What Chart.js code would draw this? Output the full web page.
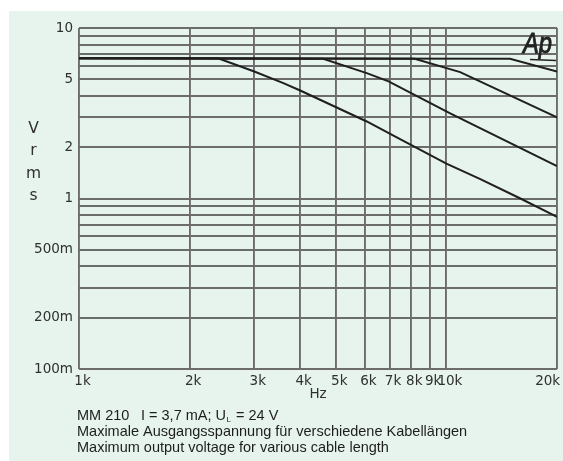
<!DOCTYPE html>
<html>
<head>
<meta charset="utf-8">
<script src="https://cdn.jsdelivr.net/npm/chart.js@4.4.1/dist/chart.umd.min.js"></script>
<style>
  html, body { margin: 0; padding: 0; background: #ffffff; }
  #wrap { width: 563px; height: 461px; }
</style>
</head>
<body>
<div id="wrap"><canvas id="levelChart" width="563" height="461"></canvas></div>
<script>
// Frequenzachse (Hz) und Gitterwerte
const xTicks = [1000, 2000, 3000, 4000, 5000, 6000, 7000, 8000, 9000, 10000, 20000];
const xTickLabels = ['1k', '2k', '3k', '4k', '5k', '6k', '7k', '8k', '9k', '10k', '20k'];
const yGrid = [0.1, 0.2, 0.3, 0.4, 0.5, 0.6, 0.7, 0.8, 0.9, 1, 2, 3, 4, 5, 6, 7, 8, 9, 10];
const yLabelValues = [0.1, 0.2, 0.5, 1, 2, 5, 10];
const yLabelTexts = ['100m', '200m', '500m', '1', '2', '5', '10'];

// Kurven (Hz / Vrms)
const curve1Hz = [1000, 2390, 3000, 3600, 4000, 6070, 7480, 10000, 12370, 15900, 20000];
const curve1V  = [6.65, 6.65, 5.56, 4.75, 4.3, 2.83, 2.23, 1.6, 1.3, 1.0, 0.78];
const curve2Hz = [1000, 4620, 6070, 6960, 10240, 20000];
const curve2V  = [6.65, 6.6, 5.44, 4.86, 3.16, 1.55];
const curve3Hz = [1000, 8200, 10900, 20000];
const curve3V  = [6.65, 6.6, 5.51, 2.99];
const curve4Hz = [1000, 14900, 20000];
const curve4V  = [6.65, 6.6, 5.56];

const gridColor = '#6c6c6c';
const textColor = '#303030';
const tickFont = { family: 'DejaVu Sans', size: 13.5 };

function toPoints(hz, v) {
    return hz.map((f, i) => ({ x: f, y: v[i] }));
}

function lineSet(hz, v) {
    return {
        data: toPoints(hz, v),
        borderColor: '#1f1f1f',
        borderWidth: 2,
        pointRadius: 0,
        tension: 0,
        fill: false
    };
}

// Hintergrund, Achsentitel und Beschriftung
const decorPlugin = {
    id: 'decor',
    beforeDraw(chart) {
        const ctx = chart.ctx;
        ctx.save();
        ctx.fillStyle = '#e6f4ed';
        ctx.fillRect(9, 11, chart.width - 9, chart.height - 11);
        ctx.restore();
    },
    afterDraw(chart) {
        const ctx = chart.ctx;
        ctx.save();
        // V r m s
        ctx.fillStyle = textColor;
        ctx.font = '15.5px "DejaVu Sans"';
        ctx.textAlign = 'center';
        ctx.textBaseline = 'alphabetic';
        ['V', 'r', 'm', 's'].forEach((ch, i) => {
            ctx.fillText(ch, 33.5, 133 + i * 22.3);
        });

        // Logo
        ctx.fillStyle = '#222222';
        ctx.strokeStyle = '#222222';
        ctx.save();
        ctx.translate(523, 53);
        ctx.scale(0.82, 1);
        ctx.font = 'italic 29px "Liberation Sans"';
        ctx.textAlign = 'left';
        ctx.lineWidth = 0.9;
        ctx.fillText('Ap', 0, 0);
        ctx.strokeText('Ap', 0, 0);
        ctx.restore();
        ctx.lineWidth = 1.3;
        ctx.beginPath();
        ctx.moveTo(530, 59.5);
        ctx.lineTo(556, 60.5);
        ctx.stroke();

        // Unterschrift
        ctx.fillStyle = '#1e1e1e';
        ctx.textAlign = 'left';
        ctx.font = '14.5px "Liberation Sans"';
        ctx.fillText('MM 210', 77, 420);
        let x = 141;
        const part1 = 'I = 3,7 mA; U';
        ctx.fillText(part1, x, 420);
        x += ctx.measureText(part1).width;
        ctx.font = '8px "Liberation Sans"';
        ctx.fillText('L', x + 0.5, 422);
        x += ctx.measureText('L').width + 1.5;
        ctx.font = '14.5px "Liberation Sans"';
        ctx.fillText(' = 24 V', x, 420);
        ctx.fillText('Maximale Ausgangsspannung für verschiedene Kabellängen', 77, 436);
        ctx.fillText('Maximum output voltage for various cable length', 77, 451.5);
        ctx.restore();
    }
};

document.addEventListener('DOMContentLoaded', function () {
    const ctx = document.getElementById('levelChart').getContext('2d');
    new Chart(ctx, {
        type: 'line',
        data: {
            datasets: [
                lineSet(curve1Hz, curve1V),
                lineSet(curve2Hz, curve2V),
                lineSet(curve3Hz, curve3V),
                lineSet(curve4Hz, curve4V)
            ]
        },
        options: {
            responsive: false,
            animation: false,
            devicePixelRatio: 1,
            layout: { padding: { left: 0, right: 6, top: 28, bottom: 58 } },
            plugins: {
                legend: { display: false },
                tooltip: { enabled: false }
            },
            scales: {
                x: {
                    type: 'logarithmic',
                    min: 1000,
                    max: 20000,
                    afterBuildTicks: (scale) => {
                        scale.ticks = xTicks.map(v => ({ value: v }));
                    },
                    afterFit: (scale) => {
                        scale.height = 34;
                        scale.paddingLeft = 0;
                        scale.paddingRight = 0;
                    },
                    ticks: {
                        autoSkip: false,
                        maxRotation: 0,
                        padding: 4,
                        labelOffset: 3.5,
                        color: textColor,
                        font: tickFont,
                        callback: (value, index) => {
                            const t = xTickLabels[index];
                            // letzte Beschriftung links vom Rand
                            return index === xTicks.length - 1 ? t + '      ' : t;
                        }
                    },
                    grid: { color: gridColor, lineWidth: 1.9, drawTicks: false },
                    border: { display: false },
                    title: {
                        display: true,
                        text: 'Hz',
                        color: textColor,
                        font: tickFont,
                        padding: 0
                    }
                },
                y: {
                    type: 'logarithmic',
                    min: 0.1,
                    max: 10,
                    afterBuildTicks: (scale) => {
                        scale.ticks = yGrid.map(v => ({ value: v }));
                    },
                    afterFit: (scale) => {
                        scale.width = 79;
                    },
                    ticks: {
                        autoSkip: false,
                        padding: 6,
                        color: textColor,
                        font: tickFont,
                        callback: (value) => {
                            const i = yLabelValues.findIndex(v => Math.abs(v - value) < 1e-9);
                            return i >= 0 ? yLabelTexts[i] : '';
                        }
                    },
                    grid: { color: gridColor, lineWidth: 1.9, drawTicks: false },
                    border: { display: false }
                }
            }
        },
        plugins: [decorPlugin]
    });
});
</script>
</body>
</html>
